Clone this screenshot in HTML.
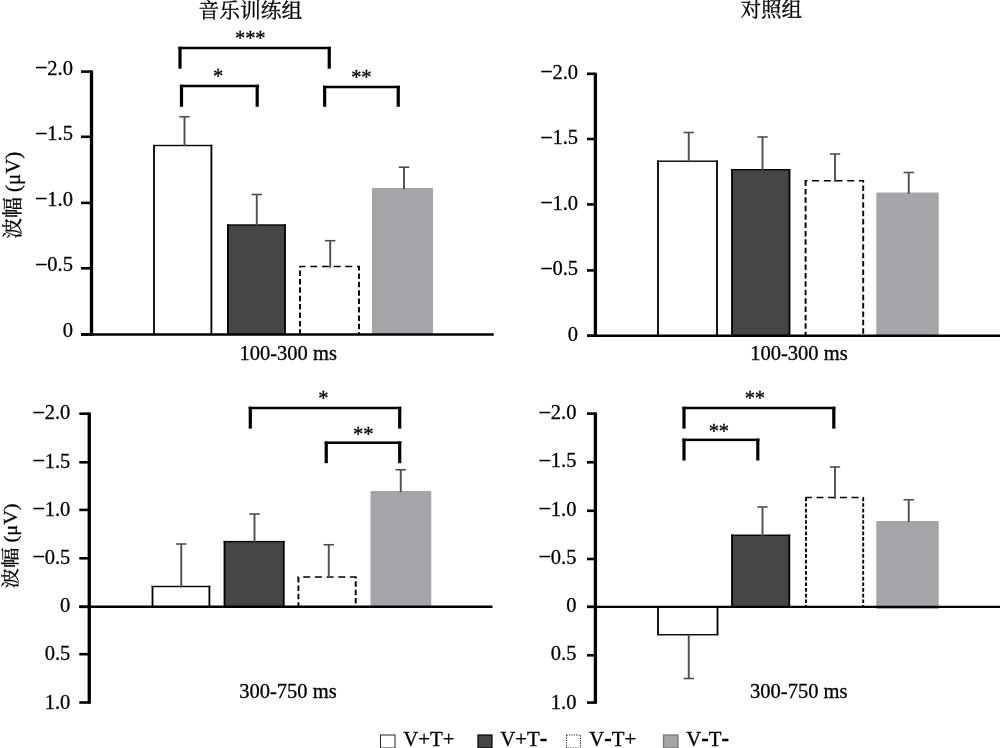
<!DOCTYPE html>
<html lang="zh"><head><meta charset="utf-8"><title>ERP amplitude</title>
<style>html,body{margin:0;padding:0;background:#fff;}body{width:1000px;height:748px;overflow:hidden;}svg{display:block;}text{font-family:"Liberation Serif", "Noto Serif CJK SC", serif;fill:#000;stroke:#000;stroke-width:0.3px;}</style>
</head><body>
<svg width="1000" height="748" viewBox="0 0 1000 748">
<rect width="1000" height="748" fill="#fff"/>
<text x="250.4" y="17.5" font-size="20.75" text-anchor="middle" >音乐训练组</text>
<text x="771.3" y="17.4" font-size="20.6" text-anchor="middle" >对照组</text>
<rect x="154" y="145.5" width="57.400000000000006" height="189.0" fill="#fff"/>
<rect x="153.1" y="144.8" width="1.8" height="189.7" fill="#000"/>
<rect x="210.5" y="144.8" width="1.8" height="189.7" fill="#000"/>
<rect x="153.1" y="144.8" width="59.2" height="1.4" fill="#000"/>
<rect x="227.9" y="225" width="57.099999999999994" height="109.5" fill="#464646"/>
<rect x="227.0" y="224.3" width="1.8" height="110.2" fill="#000"/>
<rect x="284.1" y="224.3" width="1.8" height="110.2" fill="#000"/>
<rect x="227.0" y="224.3" width="58.89999999999999" height="1.4" fill="#000"/>
<line x1="299.1" y1="266.5" x2="359.9" y2="266.5" stroke="#000" stroke-width="1.4" stroke-dasharray="7 4.7" stroke-dashoffset="0.6"/>
<line x1="300" y1="266.5" x2="300" y2="334.5" stroke="#000" stroke-width="1.9" stroke-dasharray="5.5 2.9" stroke-dashoffset="4.4"/>
<line x1="359" y1="266.5" x2="359" y2="334.5" stroke="#000" stroke-width="1.9" stroke-dasharray="5.5 2.9" stroke-dashoffset="1.5"/>
<rect x="372" y="188" width="61" height="146.5" rx="1.3" fill="#a6a4a9"/>
<line x1="184.5" y1="146.2" x2="184.5" y2="116.75" stroke="#504d51" stroke-width="1.9" />
<line x1="179.3" y1="116.75" x2="189.7" y2="116.75" stroke="#504d51" stroke-width="1.6" />
<line x1="256.75" y1="225.7" x2="256.75" y2="194.5" stroke="#504d51" stroke-width="1.9" />
<line x1="251.55" y1="194.5" x2="261.95" y2="194.5" stroke="#504d51" stroke-width="1.6" />
<line x1="330.2" y1="267.7" x2="330.2" y2="240.7" stroke="#504d51" stroke-width="1.9" />
<line x1="325.0" y1="240.7" x2="335.4" y2="240.7" stroke="#504d51" stroke-width="1.6" />
<line x1="404" y1="189.2" x2="404" y2="167.2" stroke="#504d51" stroke-width="1.9" />
<line x1="398.8" y1="167.2" x2="409.2" y2="167.2" stroke="#504d51" stroke-width="1.6" />
<line x1="91.5" y1="70.55" x2="91.5" y2="335.7" stroke="#000" stroke-width="3.3" />
<line x1="81" y1="334.5" x2="493.75" y2="334.5" stroke="#000" stroke-width="2.5" />
<line x1="81" y1="71.6" x2="91.5" y2="71.6" stroke="#000" stroke-width="2.6" />
<text x="72.9" y="74.8" font-size="20.5" text-anchor="end" ><tspan font-size="22.5" dy="0.4">−</tspan><tspan dy="-0.4" dx="-0.5">2.0</tspan></text>
<line x1="81" y1="136.8" x2="91.5" y2="136.8" stroke="#000" stroke-width="2.6" />
<text x="72.9" y="140.3" font-size="20.5" text-anchor="end" ><tspan font-size="22.5" dy="0.4">−</tspan><tspan dy="-0.4" dx="-0.5">1.5</tspan></text>
<line x1="81" y1="202.9" x2="91.5" y2="202.9" stroke="#000" stroke-width="2.6" />
<text x="72.9" y="205.8" font-size="20.5" text-anchor="end" ><tspan font-size="22.5" dy="0.4">−</tspan><tspan dy="-0.4" dx="-0.5">1.0</tspan></text>
<line x1="81" y1="268.3" x2="91.5" y2="268.3" stroke="#000" stroke-width="2.6" />
<text x="72.9" y="271.3" font-size="20.5" text-anchor="end" ><tspan font-size="22.5" dy="0.4">−</tspan><tspan dy="-0.4" dx="-0.5">0.5</tspan></text>
<line x1="81" y1="334.5" x2="91.5" y2="334.5" stroke="#000" stroke-width="2.6" />
<text x="72.9" y="336.8" font-size="20.5" text-anchor="end" >0</text>
<text x="239.5" y="359.6" font-size="20.5" text-anchor="start" >100-300 ms</text>
<rect x="178.4" y="46.75" width="3.2" height="21.950000000000003" fill="#000"/>
<rect x="327.65" y="46.75" width="3.2" height="21.950000000000003" fill="#000"/>
<rect x="178.4" y="46.75" width="152.45" height="2.5" fill="#000"/>
<text x="250.2" y="45.0" font-size="20.6" text-anchor="middle" stroke-width="0.5" letter-spacing="-0.2">***</text>
<rect x="179.9" y="84.75" width="3.2" height="22.049999999999997" fill="#000"/>
<rect x="255.6" y="84.75" width="3.2" height="22.049999999999997" fill="#000"/>
<rect x="179.9" y="84.75" width="78.89999999999999" height="2.5" fill="#000"/>
<text x="218.1" y="83.3" font-size="20.6" text-anchor="middle" stroke-width="0.5" letter-spacing="-0.2">*</text>
<rect x="323.04999999999995" y="85.75" width="3.2" height="21.049999999999997" fill="#000"/>
<rect x="396.65" y="85.75" width="3.2" height="21.049999999999997" fill="#000"/>
<rect x="323.04999999999995" y="85.75" width="76.80000000000003" height="2.5" fill="#000"/>
<text x="361.25" y="84.15" font-size="20.6" text-anchor="middle" stroke-width="0.5" letter-spacing="-0.2">**</text>
<text transform="translate(19.7,195.3) rotate(-90)" font-size="20.8" text-anchor="middle">波幅 (μV)</text>
<rect x="658" y="161.2" width="59" height="174.55" fill="#fff"/>
<rect x="657.1" y="160.5" width="1.8" height="175.25" fill="#000"/>
<rect x="716.1" y="160.5" width="1.8" height="175.25" fill="#000"/>
<rect x="657.1" y="160.5" width="60.8" height="1.4" fill="#000"/>
<rect x="732" y="169.7" width="57.5" height="166.05" fill="#464646"/>
<rect x="731.1" y="169.0" width="1.8" height="166.75" fill="#000"/>
<rect x="788.6" y="169.0" width="1.8" height="166.75" fill="#000"/>
<rect x="731.1" y="169.0" width="59.3" height="1.4" fill="#000"/>
<line x1="804.7" y1="180.75" x2="864.1" y2="180.75" stroke="#000" stroke-width="1.4" stroke-dasharray="7 4.7" stroke-dashoffset="4.3"/>
<line x1="805.6" y1="180.75" x2="805.6" y2="335.75" stroke="#000" stroke-width="1.9" stroke-dasharray="5.5 2.9" stroke-dashoffset="0.2"/>
<line x1="863.2" y1="180.75" x2="863.2" y2="335.75" stroke="#000" stroke-width="1.9" stroke-dasharray="5.5 2.9" stroke-dashoffset="3.7"/>
<rect x="876.25" y="192.5" width="62.5" height="143.25" rx="1.3" fill="#a6a4a9"/>
<line x1="688.75" y1="162.2" x2="688.75" y2="132.5" stroke="#504d51" stroke-width="1.9" />
<line x1="683.55" y1="132.5" x2="693.95" y2="132.5" stroke="#504d51" stroke-width="1.6" />
<line x1="762.5" y1="170.7" x2="762.5" y2="137" stroke="#504d51" stroke-width="1.9" />
<line x1="757.3" y1="137" x2="767.7" y2="137" stroke="#504d51" stroke-width="1.6" />
<line x1="835" y1="181.95" x2="835" y2="154" stroke="#504d51" stroke-width="1.9" />
<line x1="829.8" y1="154" x2="840.2" y2="154" stroke="#504d51" stroke-width="1.6" />
<line x1="908.75" y1="193.7" x2="908.75" y2="172.5" stroke="#504d51" stroke-width="1.9" />
<line x1="903.55" y1="172.5" x2="913.95" y2="172.5" stroke="#504d51" stroke-width="1.6" />
<line x1="595.4" y1="72.8" x2="595.4" y2="336.95" stroke="#000" stroke-width="3.3" />
<line x1="587" y1="335.75" x2="1000" y2="335.75" stroke="#000" stroke-width="2.5" />
<line x1="587" y1="73.8" x2="595.4" y2="73.8" stroke="#000" stroke-width="2.6" />
<text x="578.1" y="78.9" font-size="20.5" text-anchor="end" ><tspan font-size="22.5" dy="0.4">−</tspan><tspan dy="-0.4" dx="-0.5">2.0</tspan></text>
<line x1="587" y1="139" x2="595.4" y2="139" stroke="#000" stroke-width="2.6" />
<text x="578.1" y="144.3" font-size="20.5" text-anchor="end" ><tspan font-size="22.5" dy="0.4">−</tspan><tspan dy="-0.4" dx="-0.5">1.5</tspan></text>
<line x1="587" y1="204.4" x2="595.4" y2="204.4" stroke="#000" stroke-width="2.6" />
<text x="578.1" y="209.7" font-size="20.5" text-anchor="end" ><tspan font-size="22.5" dy="0.4">−</tspan><tspan dy="-0.4" dx="-0.5">1.0</tspan></text>
<line x1="587" y1="270.4" x2="595.4" y2="270.4" stroke="#000" stroke-width="2.6" />
<text x="578.1" y="275.1" font-size="20.5" text-anchor="end" ><tspan font-size="22.5" dy="0.4">−</tspan><tspan dy="-0.4" dx="-0.5">0.5</tspan></text>
<line x1="587" y1="335.75" x2="595.4" y2="335.75" stroke="#000" stroke-width="2.6" />
<text x="578.1" y="340.5" font-size="20.5" text-anchor="end" >0</text>
<text x="750.3" y="359.7" font-size="20.5" text-anchor="start" >100-300 ms</text>
<rect x="152.5" y="586.5" width="56.900000000000006" height="20.350000000000023" fill="#fff"/>
<rect x="151.6" y="585.8" width="1.8" height="21.050000000000022" fill="#000"/>
<rect x="208.5" y="585.8" width="1.8" height="21.050000000000022" fill="#000"/>
<rect x="151.6" y="585.8" width="58.7" height="1.4" fill="#000"/>
<rect x="224.5" y="541.6" width="59.25" height="65.25" fill="#464646"/>
<rect x="223.6" y="540.9" width="1.8" height="65.95" fill="#000"/>
<rect x="282.85" y="540.9" width="1.8" height="65.95" fill="#000"/>
<rect x="223.6" y="540.9" width="61.05" height="1.4" fill="#000"/>
<line x1="297.5" y1="577" x2="356.59999999999997" y2="577" stroke="#000" stroke-width="1.4" stroke-dasharray="7 4.7" stroke-dashoffset="6.0"/>
<line x1="298.4" y1="577" x2="298.4" y2="606.85" stroke="#000" stroke-width="1.9" stroke-dasharray="5.5 2.9" stroke-dashoffset="0"/>
<line x1="355.7" y1="577" x2="355.7" y2="606.85" stroke="#000" stroke-width="1.9" stroke-dasharray="5.5 2.9" stroke-dashoffset="4.1"/>
<rect x="370.5" y="491" width="60.75" height="115.85000000000002" rx="1.3" fill="#a6a4a9"/>
<line x1="181.25" y1="587.2" x2="181.25" y2="544" stroke="#504d51" stroke-width="1.9" />
<line x1="176.05" y1="544" x2="186.45" y2="544" stroke="#504d51" stroke-width="1.6" />
<line x1="254.5" y1="542.2" x2="254.5" y2="514" stroke="#504d51" stroke-width="1.9" />
<line x1="249.3" y1="514" x2="259.7" y2="514" stroke="#504d51" stroke-width="1.6" />
<line x1="328.75" y1="577.95" x2="328.75" y2="544.75" stroke="#504d51" stroke-width="1.9" />
<line x1="323.55" y1="544.75" x2="333.95" y2="544.75" stroke="#504d51" stroke-width="1.6" />
<line x1="400.75" y1="492.2" x2="400.75" y2="469.75" stroke="#504d51" stroke-width="1.9" />
<line x1="395.55" y1="469.75" x2="405.95" y2="469.75" stroke="#504d51" stroke-width="1.6" />
<line x1="89.25" y1="412.5" x2="89.25" y2="703.7" stroke="#000" stroke-width="3.3" />
<line x1="79.3" y1="606.85" x2="492.5" y2="606.85" stroke="#000" stroke-width="2.5" />
<line x1="79.3" y1="413.7" x2="89.25" y2="413.7" stroke="#000" stroke-width="2.6" />
<text x="70.3" y="419.4" font-size="20.5" text-anchor="end" ><tspan font-size="22.5" dy="0.4">−</tspan><tspan dy="-0.4" dx="-0.5">2.0</tspan></text>
<line x1="79.3" y1="462.3" x2="89.25" y2="462.3" stroke="#000" stroke-width="2.6" />
<text x="70.3" y="467.6" font-size="20.5" text-anchor="end" ><tspan font-size="22.5" dy="0.4">−</tspan><tspan dy="-0.4" dx="-0.5">1.5</tspan></text>
<line x1="79.3" y1="509.9" x2="89.25" y2="509.9" stroke="#000" stroke-width="2.6" />
<text x="70.3" y="515.8" font-size="20.5" text-anchor="end" ><tspan font-size="22.5" dy="0.4">−</tspan><tspan dy="-0.4" dx="-0.5">1.0</tspan></text>
<line x1="79.3" y1="558.3" x2="89.25" y2="558.3" stroke="#000" stroke-width="2.6" />
<text x="70.3" y="564.0" font-size="20.5" text-anchor="end" ><tspan font-size="22.5" dy="0.4">−</tspan><tspan dy="-0.4" dx="-0.5">0.5</tspan></text>
<line x1="79.3" y1="606.85" x2="89.25" y2="606.85" stroke="#000" stroke-width="2.6" />
<text x="70.3" y="612.2" font-size="20.5" text-anchor="end" >0</text>
<line x1="79.3" y1="654.2" x2="89.25" y2="654.2" stroke="#000" stroke-width="2.6" />
<text x="70.3" y="660.4" font-size="20.5" text-anchor="end" >0.5</text>
<line x1="79.3" y1="702.5" x2="89.25" y2="702.5" stroke="#000" stroke-width="2.6" />
<text x="70.3" y="708.6" font-size="20.5" text-anchor="end" >1.0</text>
<text x="239.3" y="698.1" font-size="20.5" text-anchor="start" >300-750 ms</text>
<rect x="248.70000000000002" y="406.75" width="3.2" height="21.850000000000023" fill="#000"/>
<rect x="398.09999999999997" y="406.75" width="3.2" height="21.850000000000023" fill="#000"/>
<rect x="248.70000000000002" y="406.75" width="152.59999999999997" height="2.5" fill="#000"/>
<text x="323.2" y="404.8" font-size="20.6" text-anchor="middle" stroke-width="0.5" letter-spacing="-0.2">*</text>
<rect x="324.65" y="441.45" width="3.2" height="21.75" fill="#000"/>
<rect x="398.09999999999997" y="441.45" width="3.2" height="21.75" fill="#000"/>
<rect x="324.65" y="441.45" width="76.64999999999999" height="2.5" fill="#000"/>
<text x="363.2" y="440.8" font-size="20.6" text-anchor="middle" stroke-width="0.5" letter-spacing="-0.2">**</text>
<text transform="translate(16.5,545.9) rotate(-90) scale(1.005,0.88)" font-size="20.3" text-anchor="middle">波幅 (μV)</text>
<rect x="658" y="606.85" width="59.5" height="27.899999999999977" fill="#fff"/>
<rect x="657.1" y="606.15" width="1.8" height="28.599999999999977" fill="#000"/>
<rect x="716.6" y="606.15" width="1.8" height="28.599999999999977" fill="#000"/>
<rect x="657.1" y="634.05" width="61.3" height="1.4" fill="#000"/>
<rect x="732" y="535.25" width="57.299999999999955" height="71.60000000000002" fill="#464646"/>
<rect x="731.1" y="534.55" width="1.8" height="72.30000000000003" fill="#000"/>
<rect x="788.4" y="534.55" width="1.8" height="72.30000000000003" fill="#000"/>
<rect x="731.1" y="534.55" width="59.09999999999995" height="1.4" fill="#000"/>
<line x1="805.1" y1="497.5" x2="864.1" y2="497.5" stroke="#000" stroke-width="1.4" stroke-dasharray="7 4.7" stroke-dashoffset="0.3"/>
<line x1="806" y1="497.5" x2="806" y2="606.85" stroke="#000" stroke-width="1.9" stroke-dasharray="3.7 1.96" stroke-dashoffset="0"/>
<line x1="863.2" y1="497.5" x2="863.2" y2="606.85" stroke="#000" stroke-width="1.9" stroke-dasharray="3.7 1.96" stroke-dashoffset="0"/>
<rect x="876.25" y="521" width="62.5" height="87.95000000000002" rx="1.3" fill="#a6a4a9"/>
<line x1="688.75" y1="634.75" x2="688.75" y2="678.5" stroke="#504d51" stroke-width="1.9" />
<line x1="683.55" y1="678.5" x2="693.95" y2="678.5" stroke="#504d51" stroke-width="1.6" />
<line x1="762.5" y1="536.45" x2="762.5" y2="507" stroke="#504d51" stroke-width="1.9" />
<line x1="757.3" y1="507" x2="767.7" y2="507" stroke="#504d51" stroke-width="1.6" />
<line x1="835" y1="498.7" x2="835" y2="467" stroke="#504d51" stroke-width="1.9" />
<line x1="829.8" y1="467" x2="840.2" y2="467" stroke="#504d51" stroke-width="1.6" />
<line x1="908.75" y1="522.2" x2="908.75" y2="499.75" stroke="#504d51" stroke-width="1.9" />
<line x1="903.55" y1="499.75" x2="913.95" y2="499.75" stroke="#504d51" stroke-width="1.6" />
<line x1="595.4" y1="412.40000000000003" x2="595.4" y2="703.8000000000001" stroke="#000" stroke-width="3.3" />
<line x1="587" y1="606.85" x2="1000" y2="606.85" stroke="#000" stroke-width="2.2" />
<line x1="587" y1="413.6" x2="595.4" y2="413.6" stroke="#000" stroke-width="2.6" />
<text x="576.4" y="419.2" font-size="20.5" text-anchor="end" ><tspan font-size="22.5" dy="0.4">−</tspan><tspan dy="-0.4" dx="-0.5">2.0</tspan></text>
<line x1="587" y1="462.3" x2="595.4" y2="462.3" stroke="#000" stroke-width="2.6" />
<text x="576.4" y="467.45" font-size="20.5" text-anchor="end" ><tspan font-size="22.5" dy="0.4">−</tspan><tspan dy="-0.4" dx="-0.5">1.5</tspan></text>
<line x1="587" y1="510.8" x2="595.4" y2="510.8" stroke="#000" stroke-width="2.6" />
<text x="576.4" y="515.7" font-size="20.5" text-anchor="end" ><tspan font-size="22.5" dy="0.4">−</tspan><tspan dy="-0.4" dx="-0.5">1.0</tspan></text>
<line x1="587" y1="559" x2="595.4" y2="559" stroke="#000" stroke-width="2.6" />
<text x="576.4" y="563.95" font-size="20.5" text-anchor="end" ><tspan font-size="22.5" dy="0.4">−</tspan><tspan dy="-0.4" dx="-0.5">0.5</tspan></text>
<line x1="587" y1="606.85" x2="595.4" y2="606.85" stroke="#000" stroke-width="2.6" />
<text x="576.4" y="612.2" font-size="20.5" text-anchor="end" >0</text>
<line x1="587" y1="655.3" x2="595.4" y2="655.3" stroke="#000" stroke-width="2.6" />
<text x="576.4" y="660.45" font-size="20.5" text-anchor="end" >0.5</text>
<line x1="587" y1="702.6" x2="595.4" y2="702.6" stroke="#000" stroke-width="2.6" />
<text x="576.4" y="708.7" font-size="20.5" text-anchor="end" >1.0</text>
<text x="750.1" y="698.3" font-size="20.5" text-anchor="start" >300-750 ms</text>
<rect x="682.4" y="406.75" width="3.2" height="21.850000000000023" fill="#000"/>
<rect x="832.1999999999999" y="406.75" width="3.2" height="21.850000000000023" fill="#000"/>
<rect x="682.4" y="406.75" width="152.99999999999994" height="2.5" fill="#000"/>
<text x="754.8" y="404.8" font-size="20.6" text-anchor="middle" stroke-width="0.5" letter-spacing="-0.2">**</text>
<rect x="682.4" y="438.6" width="3.2" height="21.899999999999977" fill="#000"/>
<rect x="756.1999999999999" y="438.6" width="3.2" height="21.899999999999977" fill="#000"/>
<rect x="682.4" y="438.6" width="76.99999999999996" height="2.5" fill="#000"/>
<text x="718.8" y="438.1" font-size="20.6" text-anchor="middle" stroke-width="0.5" letter-spacing="-0.2">**</text>
<rect x="380.5" y="735" width="14.5" height="13" fill="#fff" stroke="#222" stroke-width="1"/>
<text x="403.3" y="745.6" font-size="20.8" text-anchor="start" >V+T+</text>
<rect x="478" y="735" width="14" height="13" fill="#464646" stroke="#000" stroke-width="1.2"/>
<text x="500.2" y="745.6" font-size="20.8" text-anchor="start" >V+T<tspan font-size="22.5" font-weight="bold">-</tspan></text>
<rect x="566.5" y="735" width="14" height="13" fill="#fff" stroke="#222" stroke-width="1" stroke-dasharray="1.2 1.2"/>
<text x="589.3" y="745.6" font-size="20.8" text-anchor="start" >V<tspan font-size="22.5" font-weight="bold">-</tspan>T+</text>
<rect x="663.5" y="735" width="14.5" height="13" fill="#a6a4a9" stroke="#7a787d" stroke-width="1.3"/>
<text x="686.3" y="745.6" font-size="20.8" text-anchor="start" >V<tspan font-size="22.5" font-weight="bold">-</tspan>T<tspan font-size="22.5" font-weight="bold">-</tspan></text>
</svg></body></html>
